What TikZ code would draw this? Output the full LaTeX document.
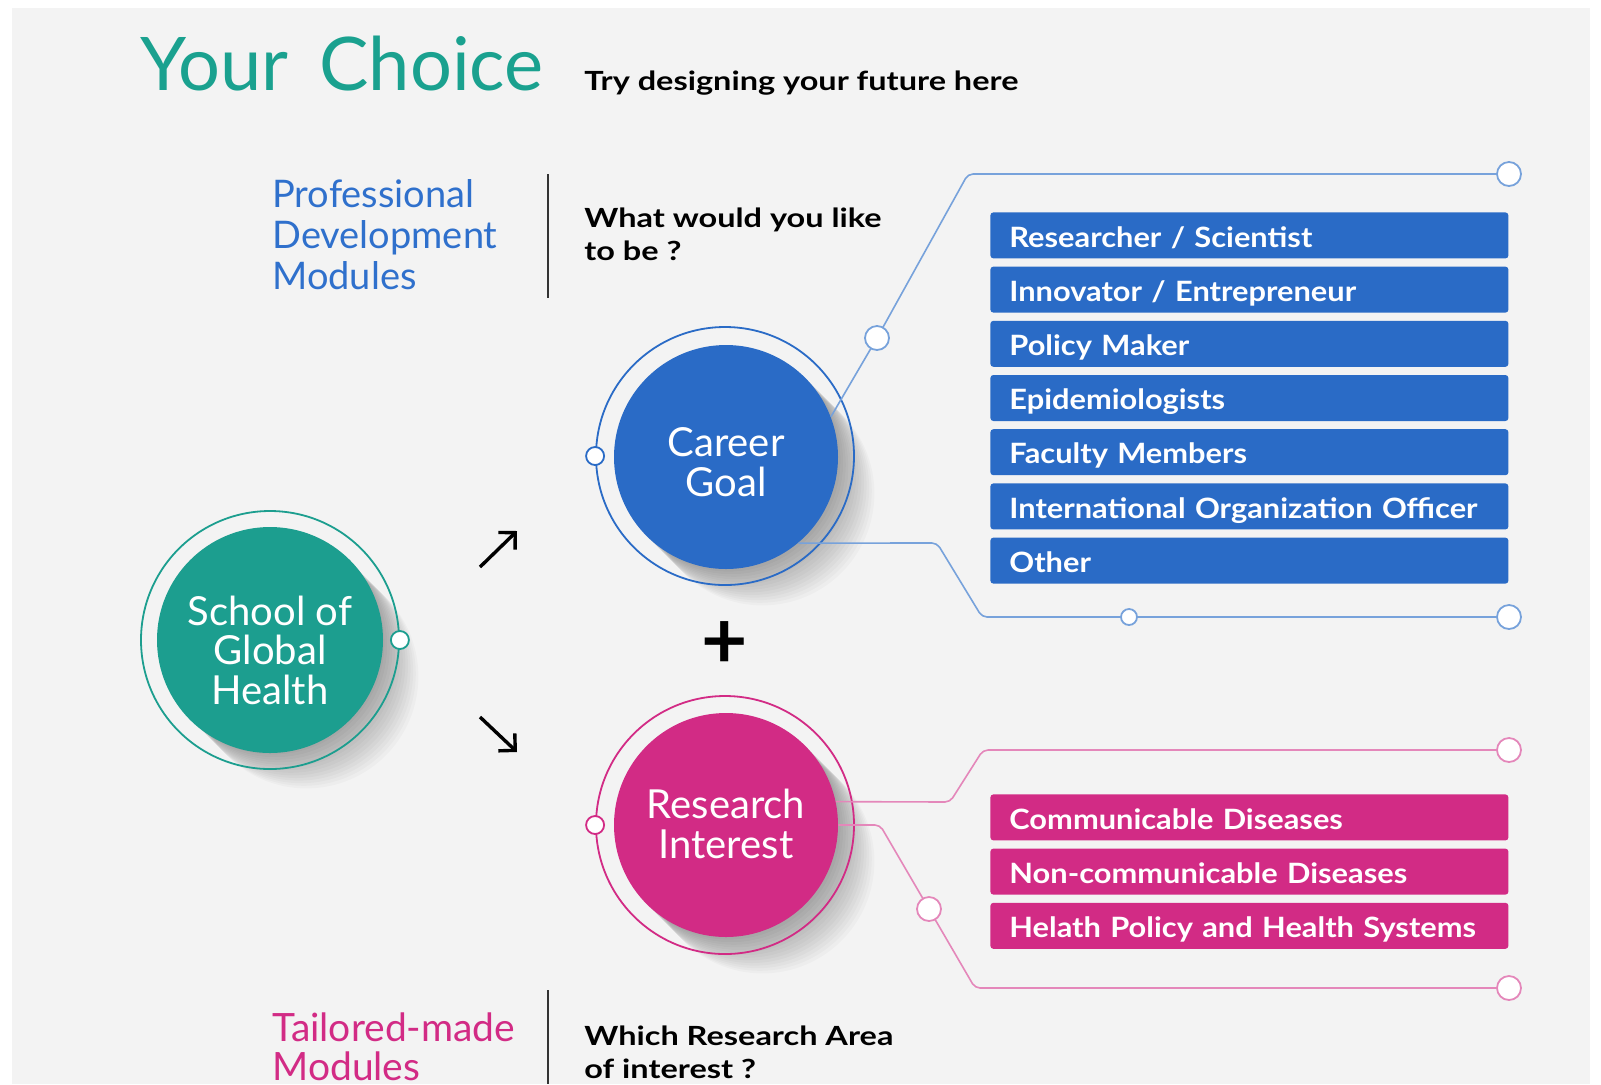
\documentclass[tikz,border=0pt]{standalone}
\usepackage{fontspec}
\setmainfont{Lato}
\newfontfamily\tagfont{Lato}[FakeStretch=1.23]
\newfontfamily\boxfont{Lato}[FakeStretch=1.1]
\usetikzlibrary{positioning,arrows.meta,calc}

\definecolor{pagebg}{HTML}{F3F3F3}
\definecolor{titleteal}{HTML}{1AA18F}
\definecolor{hubteal}{HTML}{1C9E8F}
\definecolor{careerblue}{HTML}{2A6BC6}
\definecolor{headblue}{HTML}{2F70CC}
\definecolor{bluewire}{HTML}{77A2DB}
\definecolor{researchpink}{HTML}{D22B85}
\definecolor{pinkwire}{HTML}{E487BA}
\definecolor{rulegray}{HTML}{333333}

\tikzset{
  hub/.style={circle, inner sep=0pt, minimum size=112pt},
  hublabel/.style={text=white, align=center, inner sep=0pt,
    font=\fontsize{20}{19.75}\selectfont},
  ring/.style={circle, draw, line width=0.9pt, minimum size=129pt, inner sep=0pt},
  knob/.style={circle, fill=white, draw, line width=0.9pt, inner sep=0pt, minimum size=9pt},
  bigknob/.style={knob, minimum size=12pt},
  wire/.style={line width=0.8pt, rounded corners=2.5pt},
  optbox/.style={rectangle, rounded corners=1.5pt, minimum height=23pt, text width=240pt,
    inner xsep=9.5pt, inner ysep=0pt, text height=11.8pt, text depth=0.2pt, text=white,
    align=left, font=\boxfont\bfseries\fontsize{14}{14}\selectfont, anchor=north west},
  heading/.style={align=left, inner sep=0pt, anchor=base west},
  question/.style={align=left, inner sep=0pt, anchor=base west,
    font=\tagfont\bfseries\fontsize{13.2}{16.5}\selectfont},
  pointer/.style={line width=1.7pt, -{Straight Barb[length=6pt,width=12pt]}},
}

\begin{document}
\begin{tikzpicture}[x=0.5pt, y=-0.5pt]
  % page and panel
  \useasboundingbox (0,0) rectangle (1601,1084);
  \fill[white] (0,0) rectangle (1601,1084);
  \fill[pagebg] (12,8) rectangle (1590,1084);

  % soft shadows of the three hubs
  \foreach \cx/\cy in {270/640, 726/457, 726/825}
    \foreach \d in {1,...,14}
      \fill[black, opacity=0.024] (\cx+\d*2.6, \cy+\d*2.6) circle[radius=56pt];

  % rings
  \node[ring, draw=hubteal] (sghring) at (270,640) {};
  \node[ring, draw=careerblue] (cgring) at (725,456) {};
  \node[ring, draw=researchpink] (riring) at (725,825) {};

  % hubs
  \node[hub, fill=hubteal, minimum size=113pt] (sgh) at (270,640) {};
  \node[hub, fill=careerblue] (cgoal) at (726,457) {};
  \node[hub, fill=researchpink] (rint) at (726,825) {};
  \node[hublabel] (sghlabel) at ($(sgh.center)+(0,10)$) {School of\\Global\\Health};
  \node[hublabel] (cglabel) at ($(cgoal.center)+(0,5)$) {Career\\Goal};
  \node[hublabel] (rilabel) at ($(rint.center)+(0,-1)$) {Research\\Interest};

  % wire corners and knob places
  \coordinate (cgup) at (877,338);
  \coordinate (cgtop) at (968,174);
  \coordinate (cgtopend) at (1509,174);
  \coordinate (cglow) at (937,543);
  \coordinate (cgbot) at (982,617);
  \coordinate (cgmid) at (1129,617);
  \coordinate (cgbotend) at (1509,617);
  \coordinate (riup) at (950,802);
  \coordinate (ritop) at (983,750);
  \coordinate (ritopend) at (1509,750);
  \coordinate (rilow) at (880,825);
  \coordinate (ridown) at (929,909);
  \coordinate (ribot) at (975,988);
  \coordinate (ribotend) at (1509,988);

  % wires
  \draw[wire, bluewire] (cgoal.21) -- (cgup) -- (cgtop) -- (cgtopend);
  \draw[wire, bluewire] (cgoal.-50) -- (cglow) -- (cgbot) -- (cgbotend);
  \draw[wire, pinkwire] (rint.12) -- (riup) -- (ritop) -- (ritopend);
  \draw[wire, pinkwire] (rint.east) -- (rilow) -- (ridown) -- (ribot) -- (ribotend);

  % knobs
  \node[knob, draw=hubteal] (ksgh) at (sghring.east) {};
  \node[knob, draw=careerblue] (kcg) at (cgring.west) {};
  \node[knob, draw=researchpink] (kri) at (riring.west) {};
  \node[bigknob, draw=bluewire] (kcgup) at (cgup) {};
  \node[bigknob, draw=bluewire] (kcgtop) at (cgtopend) {};
  \node[knob, draw=bluewire, minimum size=8pt] (kcgmid) at (cgmid) {};
  \node[bigknob, draw=bluewire] (kcgbot) at (cgbotend) {};
  \node[bigknob, draw=pinkwire] (kritop) at (ritopend) {};
  \node[bigknob, draw=pinkwire] (kridown) at (ridown) {};
  \node[bigknob, draw=pinkwire] (kribot) at (ribotend) {};

  % career options
  \node[optbox, fill=careerblue] (cg1) at (990,212) {Researcher / Scientist};
  \foreach \lbl [count=\i from 2] in {Innovator / Entrepreneur, Policy Maker,
      Epidemiologists, Faculty Members, International Organization Officer, Other}{
    \pgfmathtruncatemacro\prev{\i-1}
    \node[optbox, fill=careerblue, below=3.7pt of cg\prev] (cg\i) {\lbl};
  }

  % research options
  \node[optbox, fill=researchpink] (ri1) at (990,794) {Communicable Diseases};
  \foreach \lbl [count=\i from 2] in {Non-communicable Diseases,
      Helath Policy and Health Systems}{
    \pgfmathtruncatemacro\prev{\i-1}
    \node[optbox, fill=researchpink, below=3.7pt of ri\prev] (ri\i) {\lbl};
  }

  % arrows and plus
  \coordinate (upfrom) at (480,567);
  \coordinate (upto) at (517,531);
  \coordinate (downfrom) at (480,717);
  \coordinate (downto) at (517,752);
  \draw[pointer] (upfrom) -- (upto);
  \draw[pointer] (downfrom) -- (downto);
  \node[font=\bfseries\fontsize{40}{40}\selectfont] (plus) at (725,645) {+};

  % title
  \node[anchor=base west, inner sep=0pt, text=titleteal,
    font=\fontsize{37}{37}\selectfont] (title) at (140,90) {Your\hspace{6pt} Choice};
  \node[anchor=base west, inner sep=0pt, font=\tagfont\bfseries\fontsize{13.2}{14}\selectfont]
    (tagline) at (584,90) {Try designing your future here};

  % module headings (base = last line)
  \node[heading, text=headblue, font=\fontsize{19}{20.5}\selectfont] (pdm) at (272,289)
    {Professional\\Development\\Modules};
  \draw[rulegray, line width=0.8pt] (548,174) -- (548,298);
  \node[question] (qcareer) at (584,260) {What would you like\\to be ?};

  \node[heading, text=researchpink, font=\fontsize{19.5}{19.5}\selectfont] (tmm) at (272,1080)
    {Tailored-made\\Modules};
  \draw[rulegray, line width=0.8pt] (548,990) -- (548,1084);
  \node[question] (qresearch) at (584,1078) {Which Research Area\\of interest ?};
\end{tikzpicture}
\end{document}
